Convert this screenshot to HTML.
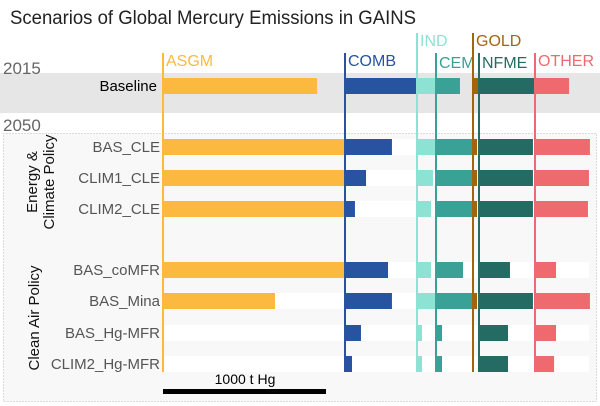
<!DOCTYPE html>
<html><head><meta charset="utf-8"><style>
body{margin:0;background:#fff;}
svg{display:block;font-family:"Liberation Sans","DejaVu Sans",sans-serif;}
</style></head><body>
<svg id="chart" width="600" height="406" viewBox="0 0 600 406">
<text x="10" y="24" font-size="19" fill="#222" textLength="406" lengthAdjust="spacingAndGlyphs">Scenarios of Global Mercury Emissions in GAINS</text>
<rect x="0" y="73" width="600" height="40" fill="#e6e6e6"/>
<text x="3" y="74" font-size="17" fill="#666">2015</text>
<text x="3" y="131" font-size="17" fill="#666">2050</text>
<rect x="3.5" y="133.5" width="593" height="268" fill="#f8f8f8" stroke="#bbb" stroke-dasharray="1,2"/>
<g transform="translate(44,182) rotate(-90)">
<text x="0" y="-7" font-size="15" fill="#111" text-anchor="middle">Energy &amp;</text>
<text x="0" y="10" font-size="15" fill="#111" text-anchor="middle">Climate Policy</text>
</g>
<text transform="translate(39,318) rotate(-90)" font-size="15" fill="#111" text-anchor="middle">Clean Air Policy</text>
<g id="rows"></g>
<g id="bars"></g>
<g id="lines"></g>
<rect x="163" y="389" width="163" height="5" fill="#000"/>
<text x="245" y="384" font-size="14" fill="#000" text-anchor="middle">1000 t Hg</text>
</svg>
<script>
const scenarios=["Baseline","BAS_CLE","CLIM1_CLE","CLIM2_CLE","BAS_coMFR","BAS_Mina","BAS_Hg-MFR","CLIM2_Hg-MFR"];
const sectors=["ASGM","COMB","IND","CEM","GOLD","NFME","OTHER"];
const asgm=[945,1117,1117,1117,1117,687,0,0];
const comb=[442,288,129,61,264,288,98,43];
const ind=[117,117,98,86,86,117,31,31];
const cem=[147,227,227,227,166,227,37,37];
const gold=[37,25,25,25,0,25,0,0];
const nfme=[344,331,331,331,190,331,178,178];
const other=[209,337,331,325,129,337,129,117];
const series=[asgm,comb,ind,cem,gold,nfme,other];
const colors=["#fbb940","#2753a0","#8de3d3","#3aa197","#a2650e","#246b63","#ee6a6e"];
const starts=[163,345,417,436,473,479,535];
const caps=[182,72,19,37,6,56,55];
const rowY=[86,147,178,209,270,301,333,364];
const labelY=[60,60,40,62,40,62,60];
const lineTop=[53,53,33,53,33,53,53];
const K=0.163;
const x=v=>v*K;
const NS="http://www.w3.org/2000/svg";
const rows=document.getElementById('rows'),bars=document.getElementById('bars'),lines=document.getElementById('lines');
function mk(tag,attrs,parent){const e=document.createElementNS(NS,tag);for(const k in attrs)e.setAttribute(k,attrs[k]);parent.appendChild(e);return e;}
scenarios.forEach((s,i)=>{
  const y=rowY[i];
  if(i>0){const r=mk('rect',{x:163,y:y-8,width:426,height:16,fill:'#fff'},rows);
  
  }
  const t=mk('text',{x:i==0?157:160,y:y+5,'font-size':15,fill:i==0?'#000':'#555','text-anchor':'end'},rows);
  t.textContent=s;
  
  
  series.forEach((arr,j)=>{
    const w=Math.min(x(arr[i]),caps[j]);
    if(w<=0)return;
    const b=mk('rect',{x:starts[j],y:y-8,width:w,height:16,fill:colors[j]},bars);
    
    
  });
});
sectors.forEach((s,j)=>{
  const l=mk('line',{x1:starts[j],x2:starts[j],y1:lineTop[j],y2:372,stroke:colors[j],'stroke-width':2},lines);
  
  
  const t=mk('text',{x:starts[j]+3,y:labelY[j]+6,'font-size':16,fill:colors[j]},lines);
  t.textContent=s;
  
  
});
</script>
</body></html>
